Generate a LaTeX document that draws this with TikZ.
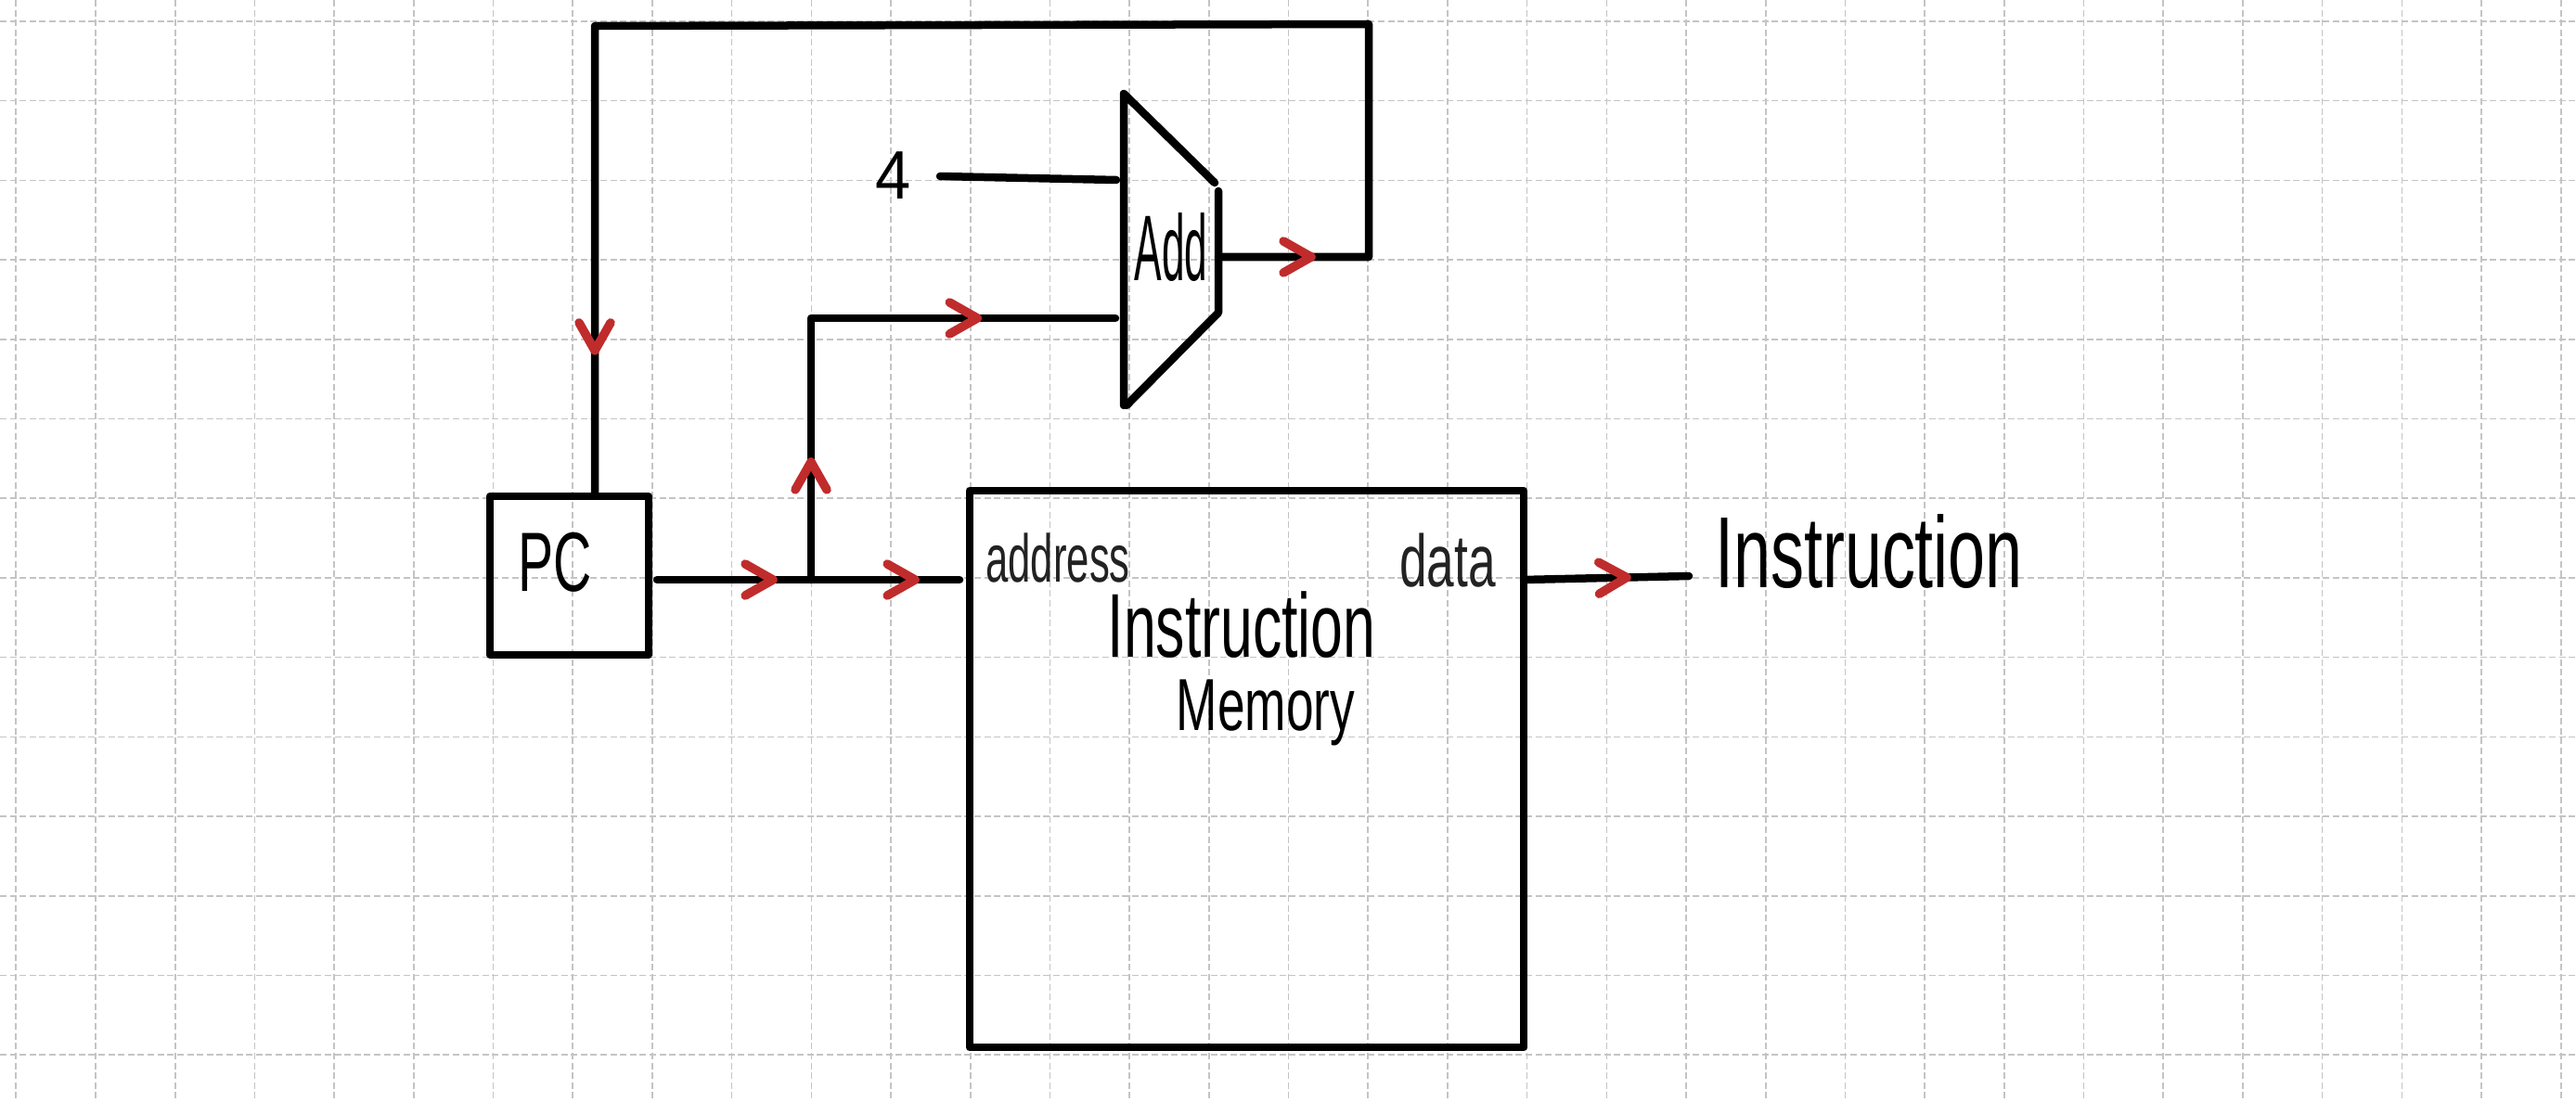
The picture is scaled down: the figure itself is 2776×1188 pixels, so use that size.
\documentclass[tikz,border=0pt]{standalone}
\usepackage{fontspec}
\setmainfont{Liberation Sans}
\usepackage{graphicx}
\usetikzlibrary{decorations.markings}
\definecolor{arrred}{RGB}{192,44,44}
\definecolor{gridgray}{RGB}{196,196,196}
\definecolor{labelgray}{RGB}{34,34,34}
\newcommand\sqz[2]{\scalebox{#1}[1]{#2}}
\tikzset{
  gridline/.style={draw=gridgray, line width=0.016cm, dash pattern=on 0.07cm off 0.036cm},
  wire/.style={draw=black, line width=0.085cm, line cap=round, line join=round},
  box/.style={draw=black, line width=0.085cm, inner sep=0pt, line join=round},
  chev/.style={draw=arrred, line width=0.095cm, line cap=round, line join=round},
  arrat/.style={postaction={decorate, decoration={markings, mark=at position #1 with {\draw[chev] (-30,17) -- (0,0) -- (-30,-17);}}}},
  hand/.style={inner sep=0pt, anchor=base, text=black},
}
\begin{document}
\begin{tikzpicture}[x=0.01cm, y=-0.01cm]
\useasboundingbox (0,0) rectangle (2776,1188);
\fill[white] (0,0) rectangle (2776,1188);
% grid
\foreach \k in {0,...,32} { \draw[gridline] ({17.3+85.7*\k},0) -- ({17.3+85.7*\k},1188); }
\foreach \k in {0,...,13} { \draw[gridline] (0,{23+85.7*\k}) -- (2776,{23+85.7*\k}); }

% boxes
\node[box, minimum width=1.71cm, minimum height=1.71cm] (pc) at (613.5,620.5) {};
\node[box, minimum width=5.97cm, minimum height=6.0cm] (mem) at (1343.5,829) {};

% labels
\node[hand, font=\fontsize{25.8pt}{26pt}\selectfont] (pctext) at (598,637) {\sqz{0.63}{PC}};
\node[hand, font=\fontsize{27.8pt}{28pt}\selectfont] (memt1) at (1338,708) {\sqz{0.64}{Instruction}};
\node[hand, font=\fontsize{22.6pt}{23pt}\selectfont] (memt2) at (1364,787) {\sqz{0.67}{Memory}};
\node[hand, text=labelgray, font=\fontsize{20.7pt}{21pt}\selectfont] (addr) at (1140,627) {\sqz{0.6}{address}};
\node[hand, text=labelgray, font=\fontsize{22.6pt}{23pt}\selectfont] (data) at (1560,632) {\sqz{0.67}{data}};
\node[hand, font=\fontsize{31pt}{31pt}\selectfont] (instr) at (2014,633) {\sqz{0.66}{Instruction}};
\node[hand, font=\fontsize{21pt}{21pt}\selectfont] (four) at (963,215) {\sqz{0.93}{4}};
\node[hand, font=\fontsize{28.6pt}{29pt}\selectfont] (addlbl) at (1262,302) {\sqz{0.44}{Add}};

% adder shape
\draw[wire] (1211,437) -- (1211,101) -- (1309,197);
\draw[wire] (1313,206) -- (1313,337) -- (1214,437);

% connector points
\coordinate (pcout) at (708,625);
\coordinate (jn) at (874,625);
\coordinate (memin) at (1034,625);
\coordinate (jt) at (874,343);
\coordinate (addinb) at (1202,343);
\coordinate (fourend) at (1013,190);
\coordinate (addina) at (1203,194);
\coordinate (addout) at (1313,277);
\coordinate (fr) at (1475,277);
\coordinate (ftr) at (1475,26);
\coordinate (ftl) at (641,28);
\coordinate (memout) at (1642,625);
\coordinate (instrin) at (1820,621);

% connectors
\draw[wire, arrat=1.25cm, arrat=2.78cm] (pcout) -- (jn) -- (memin);
\draw[wire, arrat=1.27cm, arrat=4.61cm] (jn) -- (jt) -- (addinb);
\draw[wire] (fourend) -- (addina);
\draw[wire, arrat=1.0cm, arrat=15.96cm] (addout) -- (fr) -- (ftr) -- (ftl) -- (ftl |- pc.north);
\draw[wire, arrat=1.11cm] (memout) -- (instrin);
\end{tikzpicture}
\end{document}
